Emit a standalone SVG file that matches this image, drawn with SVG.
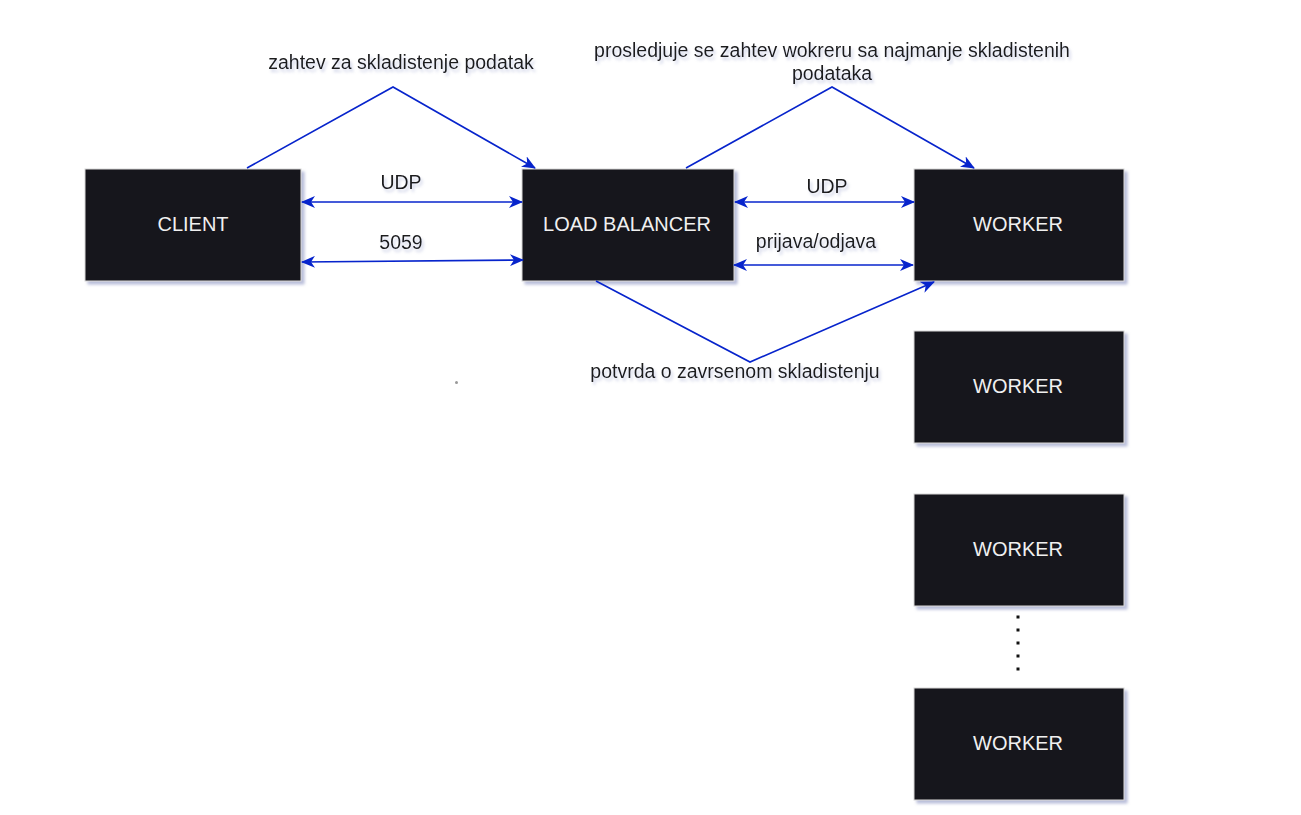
<svg xmlns="http://www.w3.org/2000/svg" width="1301" height="815" viewBox="0 0 1301 815">
<defs>
<filter id="sh" x="-10%" y="-10%" width="130%" height="130%">
<feGaussianBlur in="SourceAlpha" stdDeviation="1.5"/>
<feOffset dx="3" dy="3" result="b"/>
<feFlood flood-color="#8890c0" flood-opacity="0.6"/>
<feComposite in2="b" operator="in"/>
<feMerge><feMergeNode/><feMergeNode in="SourceGraphic"/></feMerge>
</filter>
<filter id="tsh" x="-10%" y="-30%" width="130%" height="170%">
<feGaussianBlur in="SourceAlpha" stdDeviation="1.5"/>
<feOffset dx="2" dy="3" result="b"/>
<feFlood flood-color="#a0a8d0" flood-opacity="0.5"/>
<feComposite in2="b" operator="in"/>
<feMerge><feMergeNode/><feMergeNode in="SourceGraphic"/></feMerge>
</filter>
<marker id="ah" viewBox="0 0 14 12" refX="13" refY="6" markerWidth="14" markerHeight="12" markerUnits="userSpaceOnUse" orient="auto-start-reverse">
<path d="M0,0 L14,6 L0,12 L4,6 Z" fill="#0724cc"/>
</marker>
<style>
.box{fill:#18171c;stroke:#d8d8d8;stroke-width:1;filter:url(#sh)}
.bt{font-family:"Liberation Sans",Arial,sans-serif;font-size:20px;fill:#f0f0f0;text-anchor:middle;dominant-baseline:central}
.lb{font-family:"Liberation Sans",Arial,sans-serif;font-size:19.5px;fill:#1a1a1a;text-anchor:middle;filter:url(#tsh)}
.c{fill:none;stroke:#0724cc;stroke-width:1.6}
</style>
</defs>
<rect width="1301" height="815" fill="#ffffff"/>
<g id="client"><rect class="box" x="85" y="169" width="216" height="112"/><text class="bt" x="193" y="224">CLIENT</text></g>
<g id="loadbalancer"><rect class="box" x="522" y="169" width="212" height="112"/><text class="bt" x="627" y="224">LOAD BALANCER</text></g>
<g id="worker1"><rect class="box" x="914" y="169" width="210" height="112"/><text class="bt" x="1018" y="224">WORKER</text></g>
<g id="worker2"><rect class="box" x="914" y="331" width="210" height="112"/><text class="bt" x="1018" y="386">WORKER</text></g>
<g id="worker3"><rect class="box" x="914" y="494" width="210" height="112"/><text class="bt" x="1018" y="549">WORKER</text></g>
<g id="worker4"><rect class="box" x="914" y="688" width="210" height="112"/><text class="bt" x="1018" y="743">WORKER</text></g>
<g id="dots" fill="#111">
<rect x="1016.5" y="615.5" width="3" height="3"/>
<rect x="1016.5" y="628.5" width="3" height="3"/>
<rect x="1016.5" y="641.5" width="3" height="3"/>
<rect x="1016.5" y="654.5" width="3" height="3"/>
<rect x="1016.5" y="667.5" width="3" height="3"/>
</g>
<circle cx="456.5" cy="382.5" r="1.5" fill="#999"/>
<g id="connectors">
<path class="c" d="M247,168 L393,87 L535,168" marker-end="url(#ah)"/>
<path class="c" d="M686,168 L832,87 L974,168" marker-end="url(#ah)"/>
<path class="c" d="M596,281 L750,362 L934,282" marker-end="url(#ah)"/>
<path class="c" d="M302,202 L522,202" marker-start="url(#ah)" marker-end="url(#ah)"/>
<path class="c" d="M302,262 L523,260" marker-start="url(#ah)" marker-end="url(#ah)"/>
<path class="c" d="M735,202 L914,202" marker-start="url(#ah)" marker-end="url(#ah)"/>
<path class="c" d="M734,265 L913,265" marker-start="url(#ah)" marker-end="url(#ah)"/>
</g>
<g id="labels">
<text class="lb" x="401" y="69">zahtev za skladistenje podatak</text>
<text class="lb" x="832" y="57">prosledjuje se zahtev wokreru sa najmanje skladistenih</text>
<text class="lb" x="832" y="80">podataka</text>
<text class="lb" x="735" y="378">potvrda o zavrsenom skladistenju</text>
<text class="lb" x="401" y="189">UDP</text>
<text class="lb" x="401" y="249">5059</text>
<text class="lb" x="827" y="193">UDP</text>
<text class="lb" x="816" y="248">prijava/odjava</text>
</g>
</svg>
